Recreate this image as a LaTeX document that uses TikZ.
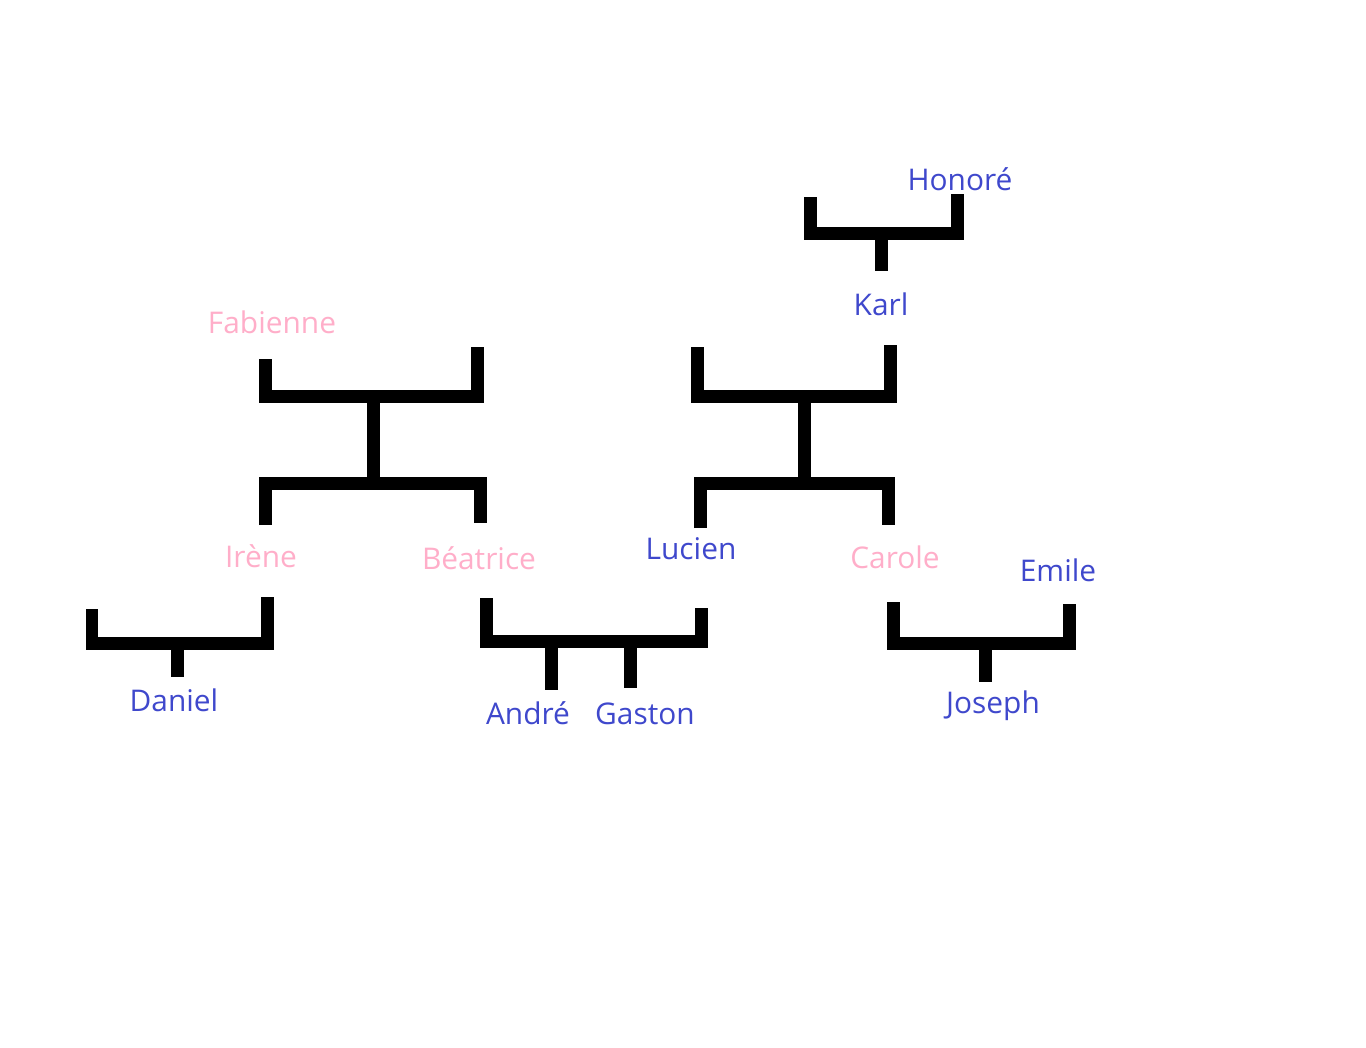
\documentclass[tikz,border=0pt]{standalone}
\usepackage{fontspec}
\setmainfont{Open Sans}
\definecolor{boyblue}{HTML}{3F48CC}
\definecolor{girlpink}{HTML}{FFAEC9}
\begin{document}
\begin{tikzpicture}[x=0.02cm,y=-0.02cm,
  every node/.style={anchor=base,inner sep=0pt,font=\fontsize{17}{20}\selectfont},
  boy/.style={text=boyblue}, girl/.style={text=girlpink},
  link/.style={line width=0.26cm}]
  \useasboundingbox (0,0) rectangle (1366,1048);
  % names
  \node[boy] (honore) at (960,190) {Honoré};
  \node[boy] (karl) at (881,315) {Karl};
  \node[girl] (fabienne) at (272,333) {Fabienne};
  \node[girl] (irene) at (261,567) {Irène};
  \node[girl] (beatrice) at (479,569) {Béatrice};
  \node[boy] (lucien) at (691,559) {Lucien};
  \node[girl] (carole) at (895,568) {Carole};
  \node[boy] (emile) at (1058,581) {Emile};
  \node[boy] (daniel) at (174,711) {Daniel};
  \node[boy] (andre) at (528,724) {André};
  \node[boy] (gaston) at (645,724) {Gaston};
  \node[boy] (joseph) at (993,713) {Joseph};
  % brackets
  \draw[link] (810,197) |- (957,233) -- (957,194);
  \draw[link] (881,233) -- (881,271);
  \draw[link] (265,359) |- (477,396) -- (477,347);
  \draw[link] (373,396) -- (373,483);
  \draw[link] (265,525) |- (480,483) -- (480,523);
  \draw[link] (697,347) |- (890,396) -- (890,345);
  \draw[link] (804,396) -- (804,483);
  \draw[link] (700,528) |- (888,483) -- (888,525);
  \draw[link] (92,609) |- (267,643) -- (267,597);
  \draw[link] (177,643) -- (177,677);
  \draw[link] (486,598) |- (701,641) -- (701,608);
  \draw[link] (551,641) -- (551,690);
  \draw[link] (630,641) -- (630,688);
  \draw[link] (893,602) |- (1069,643) -- (1069,604);
  \draw[link] (985,643) -- (985,682);
\end{tikzpicture}
\end{document}
